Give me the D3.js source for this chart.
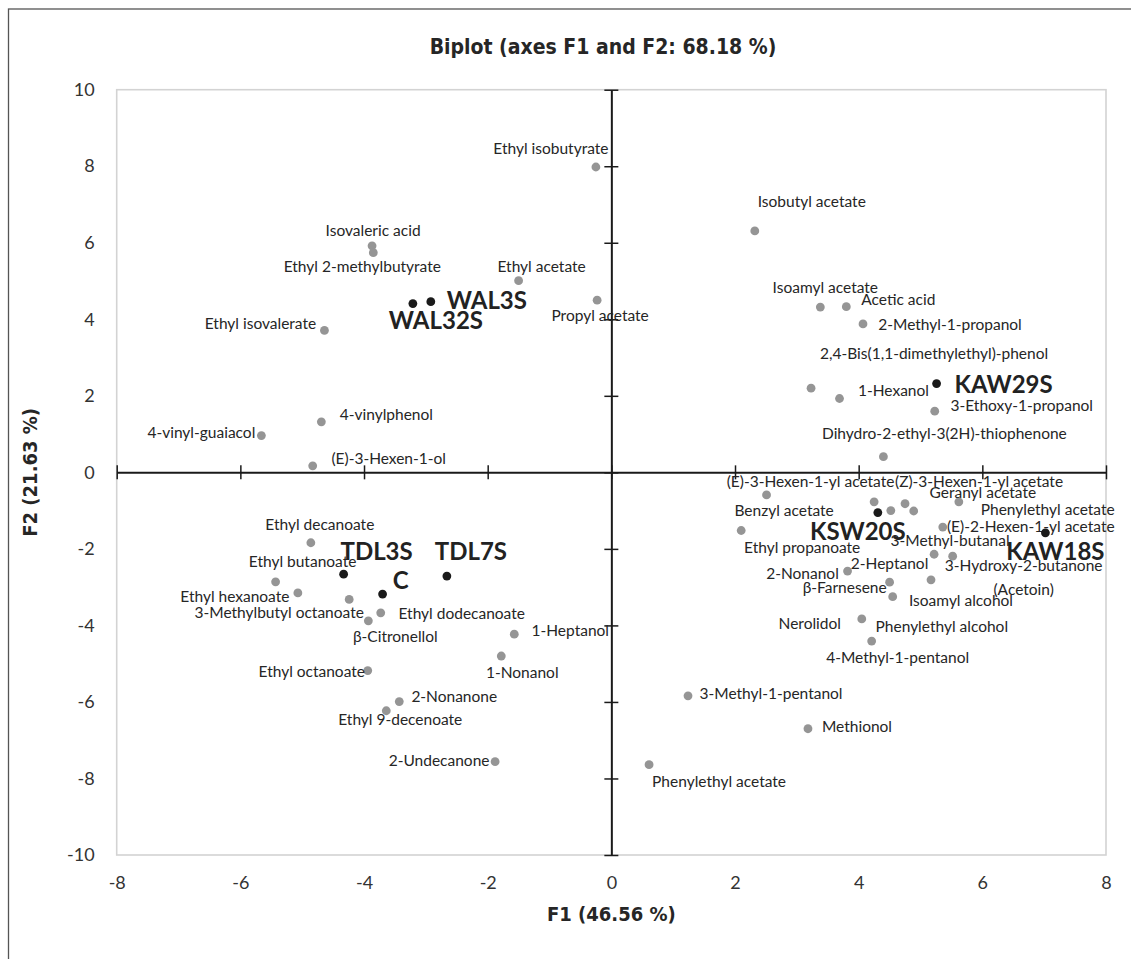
<!DOCTYPE html>
<html lang="en">
<head>
  <meta charset="utf-8"/>
  <title>Biplot (axes F1 and F2: 68.18 %)</title>
  <script src="https://cdn.jsdelivr.net/npm/d3@7/dist/d3.min.js"></script>
  <style>
    html, body { margin:0; padding:0; background:#fff; overflow:hidden; }
    svg { display:block; }
    .lbl   { font-family:Lato, "Open Sans", sans-serif; font-size:15.5px; fill:#262626; }
    .slbl  { font-family:Lato, "Open Sans", sans-serif; font-size:24px; font-weight:bold; fill:#222; }
    .tick-lbl { font-family:Lato, "Open Sans", sans-serif; font-size:18px; fill:#333; }
    .ttl   { font-family:"Liberation Sans Narrow", "Arial Narrow", "DejaVu Sans Condensed", sans-serif; font-weight:bold; fill:#262626; }
  </style>
</head>
<body>
<svg width="1131" height="959"></svg>
<script>
// ---- data: active variables (gray) ----
const variables = [
  "Ethyl isobutyrate", "Isovaleric acid", "Ethyl 2-methylbutyrate", "Ethyl acetate",
  "Propyl acetate", "Ethyl isovalerate", "4-vinylphenol", "4-vinyl-guaiacol",
  "(E)-3-Hexen-1-ol", "Isobutyl acetate", "Isoamyl acetate", "Acetic acid",
  "2-Methyl-1-propanol", "2,4-Bis(1,1-dimethylethyl)-phenol", "1-Hexanol",
  "3-Ethoxy-1-propanol", "Dihydro-2-ethyl-3(2H)-thiophenone",
  "(E)-3-Hexen-1-yl acetate", "Benzyl acetate", "Phenylethyl alcohol",
  "(Z)-3-Hexen-1-yl acetate", "Phenylethyl acetate", "Geranyl acetate",
  "Ethyl propanoate", "(E)-2-Hexen-1-yl acetate", "3-Methyl-butanal",
  "3-Hydroxy-2-butanone", "2-Nonanol", "2-Heptanol", "Isoamyl alcohol",
  "β-Farnesene", "Nerolidol", "4-Methyl-1-pentanol",
  "Ethyl decanoate", "Ethyl butanoate", "Ethyl hexanoate", "3-Methylbutyl octanoate",
  "Ethyl dodecanoate", "β-Citronellol", "1-Heptanol", "1-Nonanol", "Ethyl octanoate",
  "2-Nonanone", "Ethyl 9-decenoate", "2-Undecanone",
  "3-Methyl-1-pentanol", "Methionol", "Phenylethyl acetate"
];
const varF1 = [
  -0.25, -3.87, -3.85, -1.50, -0.23, -4.64, -4.69, -5.66, -4.83, 2.32, 3.38, 3.80,
  4.07, 3.23, 3.69, 5.23, 4.40,
  2.51, 4.25, 4.52, 4.75, 4.89, 5.62, 2.10, 5.36, 5.22, 5.52, 3.82, 4.50, 5.17,
  4.55, 4.05, 4.21,
  -4.86, -5.43, -5.07, -4.24, -3.73, -3.93, -1.57, -1.78, -3.94, -3.43, -3.64, -1.88,
  1.24, 3.18, 0.61
];
const varF2 = [
  7.98, 5.92, 5.74, 5.01, 4.50, 3.71, 1.32, 0.96, 0.17, 6.31, 4.32, 4.33,
  3.88, 2.20, 1.93, 1.60, 0.41,
  -0.59, -0.77, -1.00, -0.82, -1.01, -0.77, -1.52, -1.43, -2.14, -2.19, -2.58, -2.87, -2.81,
  -3.25, -3.83, -4.41,
  -1.84, -2.86, -3.15, -3.32, -3.67, -3.88, -4.23, -4.80, -5.18, -5.99, -6.23, -7.56,
  -5.84, -6.70, -7.64
];

// ---- data: observations (black) ----
const samples  = ["WAL32S", "WAL3S", "KAW29S", "KSW20S", "KAW18S", "TDL3S", "TDL7S", "C"];
const sampleF1 = [-3.21, -2.92, 5.26, 4.31, 7.02, -4.33, -2.66, -3.70];
const sampleF2 = [4.41, 4.46, 2.32, -1.05, -1.58, -2.66, -2.71, -3.18];

const xTicks = [-8, -6, -4, -2, 0, 2, 4, 6, 8];
const yTicks = [-10, -8, -6, -4, -2, 0, 2, 4, 6, 8, 10];

// ---- layout: label nudges in px [dx to text centre, dy to baseline] ----
const varNudge = [
  [-45,-13], [1,-10], [-11,19], [23,-9], [3,21], [-64,-1], [65,-2], [-60,2], [76,-2],
  [57,-24], [5,-14], [52,-2], [87,6], [123,-29], [54,-2], [87,0], [61,-18],
  [44,-8], [-90,14], [51,121], [74,-17], [134,4], [24,-4], [61,22], [88,5], [16,-8],
  [71,15], [-45,8], [0,-13], [30,26], [-48,-4], [-52,10], [26,22],
  [9,-13], [27,-15], [-63,9.5], [-70,19], [81,6], [27,21.5], [56,2], [21,22], [-56,6],
  [55,0], [14,14], [-56,4],
  [83,3], [49,3], [70,22]
];
const sampleNudge = [[23,25], [56,7], [67,9], [-20,27], [10,27], [33,-14], [24,-16], [18,-5.5]];
const extraLabels = [{ i: 26, text: "(Acetoin)", dx: 71, dy: 39 }];

const svg = d3.select("svg");
const W = 1131, H = 959;

const x = d3.scaleLinear().domain([-8, 8]).range([116.7, 1106]);
const y = d3.scaleLinear().domain([-10, 10]).range([855, 89.7]);
const fmt = d => String(d);   // plain hyphen-minus like the original

// outer frame
svg.append("rect")
  .attr("x", 8.5).attr("y", 9).attr("width", W + 20).attr("height", H + 20)
  .attr("fill", "none").attr("stroke", "#555").attr("stroke-width", 1.3);

// title
svg.append("text").attr("class", "ttl")
  .attr("x", 603).attr("y", 54).attr("text-anchor", "middle")
  .style("font-size", "21px")
  .text("Biplot (axes F1 and F2: 68.18 %)");

// plot border
svg.append("rect")
  .attr("x", x(-8)).attr("y", y(10))
  .attr("width", x(8) - x(-8)).attr("height", y(-10) - y(10))
  .attr("fill", "none").attr("stroke", "#d3d3d3").attr("stroke-width", 1.6);

// tick labels along the plot edges
const xLab = svg.append("g").attr("transform", `translate(0,${y(-10) + 18})`)
  .call(d3.axisBottom(x).tickValues(xTicks).tickSize(0).tickFormat(fmt));
xLab.select(".domain").remove();
xLab.selectAll("text").attr("class", "tick-lbl").attr("font-family", null).attr("font-size", null)
  .attr("fill", null).attr("dy", "0.71em");

const yLab = svg.append("g").attr("transform", `translate(${x(-8) - 19},0)`)
  .call(d3.axisLeft(y).tickValues(yTicks).tickSize(0).tickFormat(fmt));
yLab.select(".domain").remove();
yLab.selectAll("text").attr("class", "tick-lbl").attr("font-family", null).attr("font-size", null)
  .attr("fill", null);

// central axes with crossing ticks
const xAx = svg.append("g").attr("transform", `translate(0,${y(0)})`)
  .call(d3.axisBottom(x).tickValues(xTicks).tickSizeOuter(0).tickFormat(""));
xAx.selectAll(".tick line").attr("y1", -7).attr("y2", 7);
const yAx = svg.append("g").attr("transform", `translate(${x(0)},0)`)
  .call(d3.axisLeft(y).tickValues(yTicks).tickSizeOuter(0).tickFormat(""));
yAx.selectAll(".tick line").attr("x1", -7).attr("x2", 7);
[xAx, yAx].forEach(g => {
  g.select(".domain").attr("stroke", "#1a1a1a").attr("stroke-width", 2);
  g.selectAll(".tick line").attr("stroke", "#1a1a1a").attr("stroke-width", 1.5);
});

// axis titles
svg.append("text").attr("class", "ttl")
  .attr("x", x(0)).attr("y", 921).attr("text-anchor", "middle")
  .style("font-size", "20px").text("F1 (46.56 %)");
svg.append("text").attr("class", "ttl")
  .attr("transform", `translate(37,${y(0)}) rotate(-90)`).attr("text-anchor", "middle")
  .style("font-size", "20px").text("F2 (21.63 %)");

// variables
const vars = variables.map((name, i) => ({ name, f1: varF1[i], f2: varF2[i], n: varNudge[i] }));
svg.append("g").selectAll("circle").data(vars).join("circle")
  .attr("cx", d => x(d.f1)).attr("cy", d => y(d.f2)).attr("r", 4.4)
  .attr("fill", "#959595");
svg.append("g").selectAll("text").data(vars).join("text")
  .attr("class", "lbl").attr("text-anchor", "middle")
  .attr("x", d => x(d.f1) + d.n[0]).attr("y", d => y(d.f2) + d.n[1])
  .text(d => d.name);
svg.append("g").selectAll("text").data(extraLabels).join("text")
  .attr("class", "lbl").attr("text-anchor", "middle")
  .attr("x", d => x(varF1[d.i]) + d.dx).attr("y", d => y(varF2[d.i]) + d.dy)
  .text(d => d.text);

// observations
const obs = samples.map((name, i) => ({ name, f1: sampleF1[i], f2: sampleF2[i], n: sampleNudge[i] }));
svg.append("g").selectAll("circle").data(obs).join("circle")
  .attr("cx", d => x(d.f1)).attr("cy", d => y(d.f2)).attr("r", 4.4)
  .attr("fill", "#1a1a1a");
svg.append("g").selectAll("text").data(obs).join("text")
  .attr("class", "slbl").attr("text-anchor", "middle")
  .attr("x", d => x(d.f1) + d.n[0]).attr("y", d => y(d.f2) + d.n[1])
  .text(d => d.name);
</script>
</body>
</html>
